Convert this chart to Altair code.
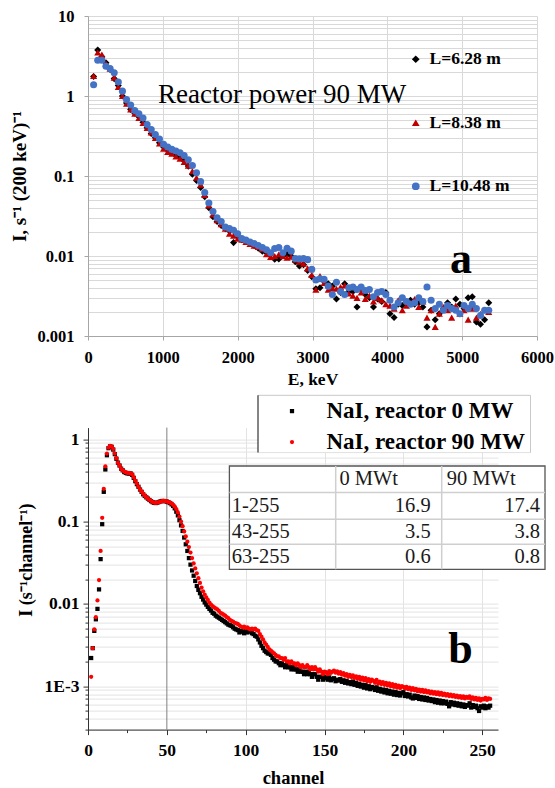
import altair as alt
import pandas as pd

SERIF = "Liberation Serif"

# ------------------------- panel a data -------------------------
E_KEV = [
    75, 130, 185, 240, 295, 350, 405, 460, 515, 570,
    625, 680, 735, 790, 845, 900, 955, 1010, 1065, 1120,
    1175, 1230, 1285, 1340, 1395, 1450, 1505, 1560, 1615, 1670,
    1725, 1780, 1835, 1890, 1945, 2000, 2055, 2110, 2165, 2220,
    2275, 2330, 2385, 2440, 2495, 2550, 2605, 2660, 2715, 2770,
    2825, 2880, 2935, 2990, 3045, 3100, 3155, 3210, 3265, 3320,
    3375, 3430, 3485, 3540, 3595, 3650, 3705, 3760, 3815, 3870,
    3925, 3980, 4035, 4090, 4145, 4200, 4255, 4310, 4365, 4420,
    4475, 4530, 4585, 4640, 4695, 4750, 4805, 4860, 4915, 4970,
    5025, 5080, 5135, 5190, 5245, 5300, 5355,
]
I_L628 = [
    1.75, 3.75, 3.1, 2.6, 2.15, 1.65, 1.35, 1.0, 0.82, 0.68,
    0.61, 0.55, 0.47, 0.40, 0.34, 0.30, 0.26, 0.23, 0.21, 0.195,
    0.18, 0.17, 0.155, 0.133, 0.105, 0.088, 0.072, 0.055, 0.040, 0.031,
    0.027, 0.024, 0.022, 0.0205, 0.0147, 0.0175, 0.016, 0.0155, 0.0145, 0.0135,
    0.0125, 0.0115, 0.011, 0.0105, 0.0091, 0.0092, 0.0100, 0.0105, 0.0100, 0.0085,
    0.0075, 0.0078, 0.0066, 0.0055, 0.0039, 0.0040, 0.0048, 0.0045, 0.0042, 0.0029,
    0.0035, 0.0045, 0.0036, 0.0036, 0.0023, 0.0039, 0.0033, 0.0030, 0.0023, 0.0029,
    0.0027, 0.0035, 0.0019, 0.0017, 0.0025, 0.0024, 0.0026, 0.0028, 0.0025, 0.0026,
    0.0023, 0.0013, 0.0021, 0.0016, 0.0019, 0.0022, 0.0026, 0.0023, 0.0029, 0.0025,
    0.0022, 0.0030, 0.0031, 0.0015, 0.0014, 0.0016, 0.0026,
]
I_L838 = [
    1.78, 3.5, 3.3, 2.55, 2.2, 1.7, 1.3, 1.0, 0.80, 0.68,
    0.60, 0.53, 0.46, 0.40, 0.35, 0.30, 0.255, 0.22, 0.20, 0.19,
    0.175, 0.165, 0.15, 0.135, 0.115, 0.095, 0.078, 0.058, 0.043, 0.033,
    0.028, 0.025, 0.022, 0.019, 0.018, 0.0165, 0.016, 0.015, 0.0142, 0.0135,
    0.013, 0.0122, 0.0105, 0.0097, 0.0100, 0.0105, 0.0100, 0.0095, 0.0098, 0.0090,
    0.0085, 0.0080, 0.0070, 0.0058, 0.0038, 0.0056, 0.0046, 0.0038, 0.0040, 0.0039,
    0.0041, 0.0043, 0.0034, 0.0032, 0.0030, 0.0035, 0.0029, 0.0032, 0.0027, 0.0030,
    0.0028, 0.0025, 0.0024, 0.0022, 0.0028, 0.0021, 0.0024, 0.0026, 0.0029, 0.0023,
    0.0027, 0.0017, 0.0021, 0.0013, 0.0019, 0.0023, 0.0021, 0.0017, 0.0024, 0.0019,
    0.0021, 0.0016, 0.0022, 0.0017, 0.0019, 0.0021, 0.0020,
]
I_L1048 = [
    1.38, 2.8, 2.8, 2.35, 2.2, 1.95, 1.5, 1.15, 0.90, 0.77,
    0.66, 0.60, 0.53, 0.44, 0.38, 0.33, 0.29, 0.25, 0.23, 0.215,
    0.205, 0.195, 0.18, 0.16, 0.135, 0.11, 0.085, 0.062, 0.046, 0.036,
    0.030, 0.027, 0.023, 0.022, 0.021, 0.019, 0.0165, 0.0158, 0.015, 0.0143,
    0.0135, 0.0128, 0.012, 0.011, 0.0124, 0.0128, 0.0110, 0.0125, 0.0115, 0.0093,
    0.0092, 0.0093, 0.0090, 0.0068, 0.0050, 0.0052, 0.0051, 0.0042, 0.0033, 0.0047,
    0.0036, 0.0033, 0.0040, 0.0041, 0.0038, 0.0041, 0.0037, 0.0038, 0.0031, 0.0035,
    0.0036, 0.0033, 0.0028, 0.0023, 0.0026, 0.0030, 0.0027, 0.0025, 0.0026, 0.0030,
    0.0027, 0.0041, 0.0028, 0.0022, 0.0025, 0.0021, 0.0024, 0.0022, 0.0021, 0.0019,
    0.0024, 0.0022, 0.0025, 0.0022, 0.0018, 0.0021, 0.0021,
]
SERIES_A = ["L=6.28 m", "L=8.38 m", "L=10.48 m"]
COLORS_A = ["#000000", "#C00000", "#4472C4"]
SHAPES_A = ["diamond", "triangle-up", "circle"]
X_TICKS_A = [0, 1000, 2000, 3000, 4000, 5000, 6000]
DECADES_A = [0.001, 0.01, 0.1, 1, 10]
POWER_LABEL = "Reactor power 90 MW"

# ------------------------- panel b data -------------------------
CHANNELS = list(range(2, 256))
I_0MW = [
    0.0022, 0.0029, 0.0047, 0.0065, 0.0087, 0.015, 0.035, 0.093, 0.23, 0.43,
    0.64, 0.78, 0.82, 0.81, 0.75, 0.66, 0.58, 0.52, 0.48, 0.44,
    0.42, 0.40, 0.39, 0.385, 0.385, 0.385, 0.37, 0.34, 0.31, 0.285,
    0.265, 0.245, 0.23, 0.215, 0.205, 0.197, 0.19, 0.183, 0.177, 0.172,
    0.169, 0.168, 0.17, 0.173, 0.176, 0.178, 0.178, 0.177, 0.175, 0.172,
    0.168, 0.162, 0.155, 0.145, 0.132, 0.119, 0.104, 0.09, 0.077, 0.064,
    0.053, 0.044, 0.036, 0.030, 0.0255, 0.022, 0.019, 0.0165, 0.0148, 0.0135,
    0.0122, 0.0113, 0.0104, 0.0098, 0.0092, 0.0087, 0.0083, 0.0078, 0.0076, 0.0072,
    0.0070, 0.0068, 0.0066, 0.0064, 0.0062, 0.0060, 0.0058, 0.0056, 0.0055, 0.0054,
    0.0052, 0.0050, 0.0049, 0.0048, 0.0045, 0.0047, 0.0046, 0.0044, 0.0047, 0.0045,
    0.0046, 0.0047, 0.0044, 0.0043, 0.0041, 0.0040, 0.0037, 0.0034, 0.0031, 0.0029,
    0.0027, 0.0026, 0.0025, 0.0025, 0.0024, 0.0022, 0.0021, 0.0020, 0.0020, 0.0019,
    0.0018, 0.0019, 0.0018, 0.0017, 0.0018, 0.0017, 0.0017, 0.0016, 0.0017, 0.0016,
    0.0016, 0.0015, 0.0016, 0.0015, 0.0015, 0.0014, 0.0015, 0.0014, 0.0015, 0.0014,
    0.0013, 0.0014, 0.0014, 0.0013, 0.0012, 0.0013, 0.0013, 0.0012, 0.0013,
    0.00125, 0.0012, 0.00128, 0.00118, 0.00122, 0.00125, 0.00115, 0.0012, 0.00117, 0.00122,
    0.00113, 0.00118, 0.0011, 0.00116, 0.00108, 0.00112, 0.00106, 0.00114, 0.00104, 0.0011,
    0.00101, 0.00107, 0.00099, 0.00104, 0.00096, 0.00103, 0.00094, 0.001, 0.00092, 0.00098,
    0.00095, 0.0009, 0.00097, 0.00088, 0.00093, 0.00086, 0.00091, 0.00084, 0.0009, 0.00082,
    0.00088, 0.00081, 0.00086, 0.00079, 0.00085, 0.00078, 0.00083, 0.00077, 0.00082, 0.00085,
    0.00076, 0.0008, 0.00075, 0.00079, 0.00073, 0.00071, 0.00077, 0.00072, 0.00076, 0.0007,
    0.00074, 0.00069, 0.00073, 0.00068, 0.00072, 0.00067, 0.0007, 0.00066, 0.00069, 0.00064,
    0.00068, 0.00063, 0.00067, 0.00062, 0.00066, 0.00062, 0.00065, 0.00061, 0.00057, 0.00064,
    0.0006, 0.00063, 0.00059, 0.00062, 0.00058, 0.00061, 0.00057, 0.0006, 0.00056, 0.00059,
    0.00058, 0.00062, 0.00055, 0.00059, 0.00056, 0.00058, 0.00054, 0.0005, 0.00057, 0.00055,
    0.00058, 0.00054, 0.00057, 0.00055, 0.00058,
]
I_90MW = [
    0.0013, 0.0029, 0.0049, 0.0069, 0.011, 0.0195, 0.044, 0.111, 0.25, 0.47,
    0.67, 0.79, 0.83, 0.82, 0.76, 0.67, 0.59, 0.52, 0.48, 0.44,
    0.42, 0.405, 0.395, 0.39, 0.39, 0.385, 0.375, 0.345, 0.315, 0.29,
    0.265, 0.245, 0.232, 0.218, 0.207, 0.198, 0.19, 0.183, 0.178, 0.173,
    0.17, 0.169, 0.17, 0.172, 0.175, 0.177, 0.178, 0.177, 0.176, 0.173,
    0.17, 0.166, 0.16, 0.152, 0.142, 0.129, 0.115, 0.1, 0.088, 0.076,
    0.066, 0.057, 0.049, 0.042, 0.036, 0.031, 0.027, 0.0235, 0.0205, 0.018,
    0.0158, 0.0142, 0.013, 0.012, 0.0112, 0.0104, 0.0098, 0.0094, 0.0091, 0.0088,
    0.0086, 0.0082, 0.0078, 0.0076, 0.0074, 0.0072, 0.0069, 0.0067, 0.0064, 0.0062,
    0.0061, 0.0059, 0.0058, 0.0057, 0.0055, 0.0053, 0.0052, 0.0053, 0.0051, 0.0052,
    0.0050, 0.0049, 0.0050, 0.0049, 0.0050, 0.0048, 0.0047, 0.0043, 0.0040, 0.0037,
    0.0034, 0.0032, 0.0030, 0.0028, 0.0027, 0.0026, 0.0025, 0.0024, 0.0023, 0.0023,
    0.0022, 0.0022, 0.0021, 0.0022, 0.0020, 0.0020, 0.0019, 0.0020, 0.0019, 0.0019,
    0.0018, 0.0019, 0.0018, 0.0017, 0.0018, 0.0017, 0.0017, 0.0018, 0.0017, 0.0016,
    0.0017, 0.0016, 0.0017, 0.0016, 0.0015, 0.0016, 0.0015, 0.0014, 0.0015,
    0.00148, 0.0014, 0.00152, 0.00145, 0.0015, 0.00155, 0.00146, 0.00151, 0.00142, 0.00148,
    0.00138, 0.00144, 0.00134, 0.0014, 0.0013, 0.00137, 0.00129, 0.00135, 0.00126, 0.00132,
    0.00123, 0.0013, 0.0012, 0.00127, 0.00118, 0.00125, 0.00115, 0.00122, 0.00113, 0.0012,
    0.00116, 0.0011, 0.00119, 0.00108, 0.00114, 0.00106, 0.00112, 0.00104, 0.0011, 0.00102,
    0.00108, 0.001, 0.00106, 0.00098, 0.00104, 0.00096, 0.00102, 0.00095, 0.001, 0.00098,
    0.00094, 0.00098, 0.00092, 0.00096, 0.0009, 0.00095, 0.00089, 0.00093, 0.00087, 0.00091,
    0.00086, 0.0009, 0.00085, 0.00089, 0.00084, 0.00087, 0.00082, 0.00086, 0.00081, 0.00085,
    0.0008, 0.00084, 0.00079, 0.00083, 0.00078, 0.00081, 0.00077, 0.0008, 0.00076, 0.00079,
    0.00075, 0.00078, 0.00074, 0.00077, 0.00073, 0.00076, 0.00072, 0.00075, 0.00071, 0.00074,
    0.00072, 0.00075, 0.0007, 0.00073, 0.00069, 0.00072, 0.00068, 0.00071, 0.00067, 0.0007,
    0.00069, 0.00072, 0.00068, 0.00071, 0.0007,
]
SERIES_B = ["NaI, reactor 0 MW", "NaI, reactor 90 MW"]
COLORS_B = ["#000000", "#FF0000"]
SHAPES_B = ["square", "circle"]
X_TICKS_B = [0, 25, 50, 75, 100, 125, 150, 175, 200, 225, 250]
DECADES_B = [0.001, 0.01, 0.1, 1]

TABLE_HEADER = ["", "0 MWt", "90 MWt"]
TABLE_RANGES = ["1-255", "43-255", "63-255"]
TABLE_0MW = ["16.9", "3.5", "0.6"]
TABLE_90MW = ["17.4", "3.8", "0.8"]

ONE = pd.DataFrame({"k": [0]})
IS_DEC = "abs(log(datum.value)/LN10 - round(log(datum.value)/LN10)) < 1e-6"

# ------------------------- panel a -------------------------
grid_a = [m * d for d in DECADES_A[:-1] for m in range(1, 10)] + [DECADES_A[-1]]
df_a = pd.DataFrame({
    "E": E_KEV * 3,
    "I": I_L628 + I_L838 + I_L1048,
    "L": [SERIES_A[0]] * len(I_L628) + [SERIES_A[1]] * len(I_L838) + [SERIES_A[2]] * len(I_L1048),
})

legend_a = alt.Legend(
    orient="none", legendX=319, legendY=34.5, title=None, direction="vertical",
    labelFont=SERIF, labelFontSize=17.5, labelFontWeight="bold", labelColor="black",
    labelLimit=300, symbolSize=60, symbolOffset=0, labelOffset=5, rowPadding=44.5, padding=0,
)
axis_xa = alt.Axis(
    values=X_TICKS_A, format="d", grid=True, gridColor="#d9d9d9", domainColor="#a6a6a6",
    tickColor="#a6a6a6", tickSize=4, labelFont=SERIF, labelFontSize=16.5, labelFontWeight="bold",
    labelColor="black", labelPadding=9, labelFlush=False, labelOverlap=False,
    title="E, keV", titleFont=SERIF, titleFontSize=17.5, titleFontWeight="bold",
    titleColor="black", titleY=43.5, titleBaseline="middle",
)
axis_ya = alt.Axis(
    values=grid_a, labelExpr=f"{IS_DEC} ? format(datum.value, '~g') : ''",
    labelOverlap=False, labelFont=SERIF, labelFontSize=16.5, labelFontWeight="bold",
    labelColor="black", labelPadding=10, tickSize=4, tickColor="#a6a6a6",
    tickOpacity={"condition": {"test": IS_DEC, "value": 1}, "value": 0},
    domainColor="#a6a6a6", grid=True, gridColor="#d9d9d9",
    title="I, s⁻¹ (200 keV)⁻¹", titleFont=SERIF, titleFontSize=19, titleFontWeight="bold",
    titleColor="black", titleX=-69, titleY=160, titleAngle=270, titleAlign="center",
    titleBaseline="middle",
)
points_a = alt.Chart(df_a).mark_point(filled=True, size=50, opacity=1).encode(
    x=alt.X("E:Q", scale=alt.Scale(domain=[0, 6000], nice=False), axis=axis_xa),
    y=alt.Y("I:Q", scale=alt.Scale(type="log", domain=[0.001, 10], nice=False), axis=axis_ya),
    color=alt.Color("L:N", scale=alt.Scale(domain=SERIES_A, range=COLORS_A), legend=legend_a),
    shape=alt.Shape("L:N", scale=alt.Scale(domain=SERIES_A, range=SHAPES_A), legend=legend_a),
)
power_text = alt.Chart(pd.DataFrame({"t": [POWER_LABEL]})).mark_text(
    align="left", baseline="alphabetic", font=SERIF, fontSize=27, color="black"
).encode(x=alt.value(70), y=alt.value(86.6), text="t:N")
a_text = alt.Chart(pd.DataFrame({"t": ["a"]})).mark_text(
    align="center", baseline="alphabetic", font=SERIF, fontSize=44, fontWeight="bold", color="black"
).encode(x=alt.value(373), y=alt.value(256.6), text="t:N")

chart_a = alt.layer(points_a, power_text, a_text).properties(width=449, height=320)

# ------------------------- panel b -------------------------
grid_b = [m * 0.0001 for m in range(3, 10)] + [m * d for d in DECADES_B[:-1] for m in range(1, 10)] + [1]
df_b = pd.DataFrame({
    "ch": CHANNELS * 2,
    "I": I_0MW + I_90MW,
    "S": [SERIES_B[0]] * len(I_0MW) + [SERIES_B[1]] * len(I_90MW),
})
legend_b = alt.Legend(
    orient="none", legendX=170, legendY=-32, title=None, direction="vertical",
    labelFont=SERIF, labelFontSize=23, labelFontWeight="bold", labelColor="black",
    labelLimit=400, symbolSize=18, symbolOffset=18.5, labelOffset=23, rowPadding=7, padding=4,
)
axis_xb = alt.Axis(
    values=X_TICKS_B, labelExpr="datum.value % 50 == 0 ? datum.label : ''", format="d",
    grid=True, gridColor="#e3e3e3",
    gridOpacity={"condition": {"test": "datum.value % 50 == 0 && datum.value > 50", "value": 1}, "value": 0},
    domainColor="#333333", tickColor="#333333",
    tickSize={"condition": {"test": "datum.value % 50 == 0", "value": 5}, "value": 3},
    labelFont=SERIF, labelFontSize=17.5, labelFontWeight="bold", labelColor="black",
    labelPadding=7, labelFlush=False, labelOverlap=False,
    title="channel", titleFont=SERIF, titleFontSize=18.5, titleFontWeight="bold",
    titleColor="black", titleY=48.3, titleBaseline="middle",
)
axis_yb = alt.Axis(
    values=grid_b,
    labelExpr=f"{IS_DEC} ? (datum.value < 0.002 ? '1E-3' : format(datum.value, '~g')) : ''",
    labelOverlap=False, labelFont=SERIF, labelFontSize=17.5, labelFontWeight="bold",
    labelColor="black", labelPadding=4, tickColor="#333333",
    tickSize={"condition": {"test": IS_DEC, "value": 5}, "value": 3},
    domainColor="#333333", grid=True, gridColor="#e3e3e3",
    title="I (s⁻¹channel⁻¹)", titleFont=SERIF, titleFontSize=18, titleFontWeight="bold",
    titleColor="black", titleX=-62, titleY=132, titleAngle=270, titleAlign="center",
    titleBaseline="middle",
)
rule50 = alt.Chart(ONE).mark_rule(color="#808080", strokeWidth=1).encode(x=alt.datum(50))
points_b = alt.Chart(df_b).mark_point(filled=True, size=18, opacity=1).encode(
    x=alt.X("ch:Q", scale=alt.Scale(domain=[0, 260], nice=False), axis=axis_xb),
    y=alt.Y("I:Q", scale=alt.Scale(type="log", domain=[0.000297, 1.387], nice=False), axis=axis_yb),
    color=alt.Color("S:N", scale=alt.Scale(domain=SERIES_B, range=COLORS_B), legend=legend_b),
    shape=alt.Shape("S:N", scale=alt.Scale(domain=SERIES_B, range=SHAPES_B), legend=legend_b),
)


def box(x1, x2, y1, y2, stroke=None, width=1):
    m = alt.Chart(ONE).mark_rect(fill="white", stroke=stroke if stroke else "white",
                                  strokeWidth=width if stroke else 0)
    return m.encode(x=alt.value(x1), x2=alt.value(x2), y=alt.value(y1), y2=alt.value(y2))


def hline(x1, x2, y, color, width=1):
    return alt.Chart(ONE).mark_rule(color=color, strokeWidth=width).encode(
        x=alt.value(x1), x2=alt.value(x2), y=alt.value(y))


def vline(x, y1, y2, color, width=1):
    return alt.Chart(ONE).mark_rule(color=color, strokeWidth=width).encode(
        x=alt.value(x), y=alt.value(y1), y2=alt.value(y2))


def cell(text, x, y, align):
    return alt.Chart(pd.DataFrame({"t": [text]})).mark_text(
        align=align, baseline="middle", font=SERIF, fontSize=20.5, color="#1a1a1a"
    ).encode(x=alt.value(x), y=alt.value(y), text="t:N")


legend_frame = [
    box(170, 442.5, -32.3, 25),
    hline(170, 442.5, -32.3, "#c8c8c8"),
    hline(170, 442.5, 25, "#e0e0e0"),
    vline(442.5, -32.3, 25, "#c8c8c8"),
    vline(170, -32.3, 25, "#333333", 1.2),
]

tx = [141.4, 247.7, 353.7, 457]
ty = [38.4, 65, 91.7, 116.7, 141.7]
row_mid = [51.7, 78.4, 104, 129.4]
table_layers = [box(tx[0], tx[3], ty[0], ty[4], stroke="#555555", width=1.3)]
for yy in ty[1:4]:
    table_layers.append(hline(tx[0], tx[3], yy, "#cfcfcf", 1.5))
for xx in tx[1:3]:
    table_layers.append(vline(xx, ty[0], ty[4], "#cfcfcf", 1.5))
table_layers.append(cell(TABLE_HEADER[1], 251.4, row_mid[0], "left"))
table_layers.append(cell(TABLE_HEADER[2], 358.7, row_mid[0], "left"))
for i in range(3):
    table_layers.append(cell(TABLE_RANGES[i], 143.7, row_mid[i + 1], "left"))
    table_layers.append(cell(TABLE_0MW[i], 342.7, row_mid[i + 1], "right"))
    table_layers.append(cell(TABLE_90MW[i], 452, row_mid[i + 1], "right"))

b_text = alt.Chart(pd.DataFrame({"t": ["b"]})).mark_text(
    align="center", baseline="alphabetic", font=SERIF, fontSize=44, fontWeight="bold", color="black"
).encode(x=alt.value(372.4), y=alt.value(235), text="t:N")

chart_b = alt.layer(rule50, points_b, *legend_frame, *table_layers, b_text).properties(
    width=410, height=302)

chart = alt.vconcat(chart_a, chart_b, spacing=91.6, bounds="flush").resolve_scale(
    color="independent", shape="independent"
).resolve_legend(
    color="independent", shape="independent"
).properties(
    padding={"left": 10, "top": 8, "right": 0, "bottom": 0}, background="white"
).configure_view(stroke=None)

chart.save("out.html", embed_options={"renderer": "svg", "actions": False})
